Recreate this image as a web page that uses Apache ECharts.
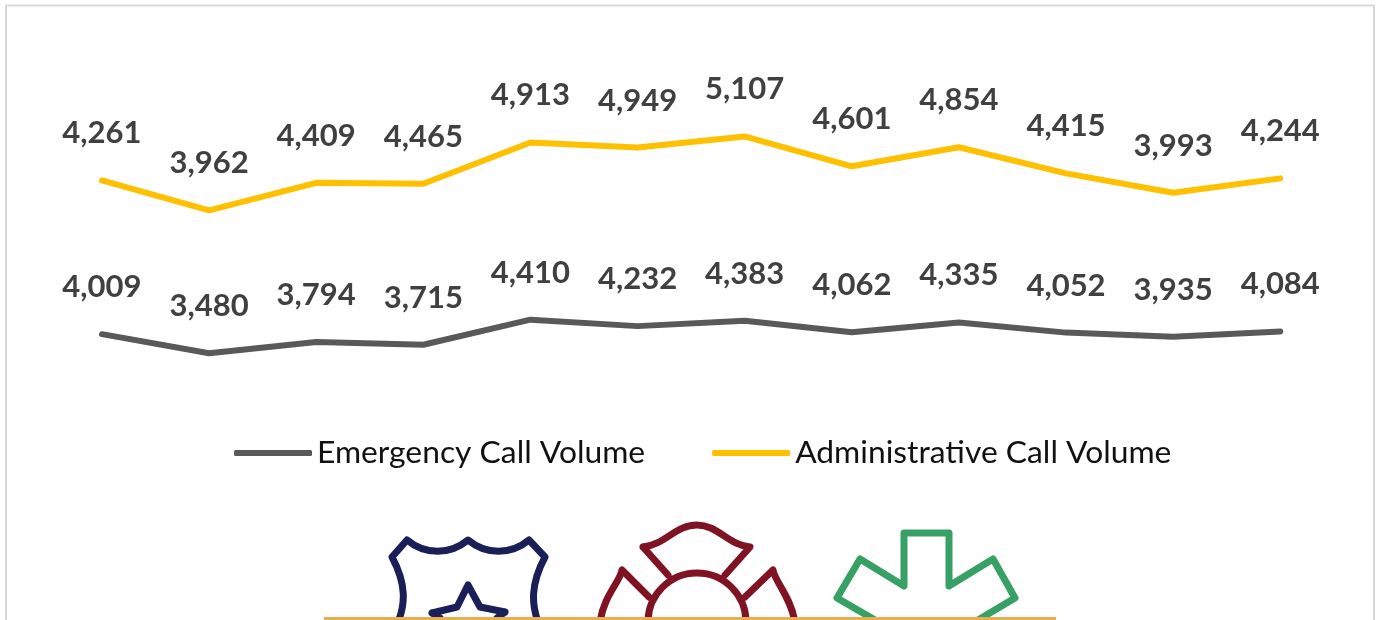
<!DOCTYPE html>
<html><head><meta charset="utf-8">
<style>html,body{margin:0;padding:0;background:#fff}#c{width:1379px;height:620px}</style>
<script src="https://cdn.jsdelivr.net/npm/echarts@6/dist/echarts.min.js"></script>
</head><body><div id="c"></div>
<script>
const periods = ["1","2","3","4","5","6","7","8","9","10","11","12"];
const emergency = [4009,3480,3794,3715,4410,4232,4383,4062,4335,4052,3935,4084];
const administrative = [4261,3962,4409,4465,4913,4949,5107,4601,4854,4415,3993,4244];

const FONT = 'Lato, "Open Sans", sans-serif';
const fmt = p => Number(p.value).toLocaleString('en-US');
function lineSeries(name, data, color) {
  return {
    name, type: 'line', stack: 'calls', data, symbol: 'circle', symbolSize: 1, showSymbol: true, showAllSymbol: true, silent: true,
    lineStyle: { color, width: 6, cap: 'round', join: 'round' },
    itemStyle: { color },
    label: { show: true, position: 'top', distance: 31, formatter: fmt,
      fontFamily: FONT, fontWeight: 700, fontSize: 31, color: '#404040' }
  };
}
let iconCount = 0;
function outline(pathData, color) {
  const name = 'iconPath' + (iconCount++);
  echarts.graphic.registerShape(name, echarts.graphic.extendPath(pathData, {}));
  return { type: name, silent: true,
    style: { fill: null, stroke: color, lineWidth: 7, lineJoin: 'round', lineCap: 'round' } };
}
const chart = echarts.init(document.getElementById('c'), null, { renderer: 'canvas' });
chart.setOption({
  animation: false,
  backgroundColor: '#fff',
  grid: { left: 48.4, width: 1285.4, top: 9.8, height: 469, containLabel: false },
  xAxis: { type: 'category', data: periods, boundaryGap: true, show: false },
  yAxis: { type: 'value', min: 0, max: 13000, show: false },
  legend: {
    left: 229, top: 432, itemWidth: 78, itemHeight: 6, itemGap: 67, icon: 'roundRect',
    selectedMode: false,
    itemStyle: { borderWidth: 0 }, lineStyle: { width: 0 },
    textStyle: { fontFamily: FONT, fontSize: 31.8, color: '#111', padding: [0,0,0,0] }
  },
  series: [
    lineSeries('Emergency Call Volume', emergency, '#595959'),
    lineSeries('Administrative Call Volume', administrative, '#FFC000')
  ],
  graphic: [
    { type: 'rect', z: -1, silent: true, shape: { x: 6, y: 5.5, width: 1368, height: 640 },
      style: { fill: '#fff', stroke: '#D9D9D9', lineWidth: 2 } },
    outline('M398,622 C405,605 407,585 392,557 L407,540 C425,555 450,555 468,540 C486,555 511,555 529,540 L545,557 C530,585 532,605 538,622', '#1B1F57'),
    outline('M432,613 L457,607 L468,585 L480,607 L505,612 M440,618 L432,613 M497,618 L505,612', '#1B1F57'),
    outline('M643,547 C665,545 675,525 697,525 C718,525 728,545 750,547 L725,575 M643,547 L668,575 M648,622 A49,49 0 0 1 746,622 M649,597 L622,570 C620,582 604,595 600,622 M745,597 L773,570 C775,582 790,595 795,622', '#7F1324'),
    outline('M875,620 L837,598 L860,559 L904,586 L904,533 L949,533 L949,586 L993,559 L1015,598 L978,620', '#36A065'),
    { type: 'rect', silent: true, z: 10, shape: { x: 324, y: 617, width: 732, height: 3 }, style: { fill: '#E8AE50' } }
  ]
});
</script></body></html>
